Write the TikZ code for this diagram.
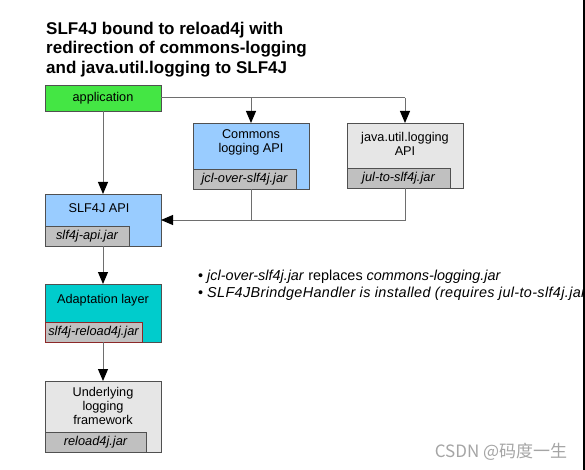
\documentclass[tikz,border=0pt]{standalone}
\usepackage{fontspec}
\setmainfont{Liberation Sans}
\newfontfamily\cjk{Noto Sans CJK SC}
\usetikzlibrary{arrows.meta,calc}
\definecolor{appgreen}{RGB}{68,230,68}
\definecolor{apiblue}{RGB}{153,204,255}
\definecolor{lightgray}{RGB}{230,230,230}
\definecolor{jargray}{RGB}{192,192,192}
\definecolor{teal}{RGB}{0,204,204}
\definecolor{boxborder}{RGB}{80,80,80}
\definecolor{linegray}{RGB}{110,110,110}
\definecolor{darkred}{RGB}{140,40,40}
\definecolor{wmgray}{RGB}{165,165,165}
\begin{document}
\begin{tikzpicture}[x=1pt,y=-1pt,
  box/.style={draw=boxborder, line width=0.8pt, anchor=north west, inner sep=0pt, outer sep=0pt, minimum width=116pt},
  jarbox/.style={draw=boxborder, fill=jargray, line width=0.8pt, anchor=south west, inner sep=0pt, outer sep=0pt, minimum height=19.5pt, font=\fontsize{12.8}{14}\selectfont\itshape},
  lbl/.style={font=\fontsize{12.7}{14}\selectfont, align=center, inner sep=0pt},
  conn/.style={draw=linegray, line width=1pt},
  arr/.style={conn, -{Triangle[length=12pt,width=10pt,color=black]}}
]
\useasboundingbox (0,0) rectangle (585,470);
\fill[white] (0,0) rectangle (585,470);
\begin{scope}
\clip (0,0) rectangle (585,470);

% title
\node[anchor=north west, inner sep=0pt, align=left,
      font=\fontsize{17}{19.7}\selectfont\bfseries] (title) at (46,21.5)
  {SLF4J bound to reload4j with\\redirection of commons-logging\\and java.util.logging to SLF4J};

% application
\node[box, fill=appgreen, minimum height=26pt, lbl] (app) at (45,85) {};
\node[lbl] (applbl) at (app.center) {application};

% SLF4J API
\node[box, fill=apiblue, minimum height=52pt] (slf) at (45,194) {};
\node[jarbox, minimum width=84pt] (slfjar) at (slf.south west) {slf4j-api.jar};
\node[lbl] (slflbl) at ($(slf.north)+(-4,14)$) {SLF4J API};

% Commons logging
\node[box, fill=apiblue, minimum height=66pt] (cl) at (193,123) {};
\node[jarbox, minimum width=103pt] (cljar) at (cl.south west) {jcl-over-slf4j.jar};
\node[lbl, font=\fontsize{12.7}{14}\selectfont] (cllbl) at ($(cl.north)+(0,19)$) {Commons\\logging API};

% java.util.logging
\node[box, fill=lightgray, minimum height=65pt] (jul) at (347,123) {};
\node[jarbox, minimum width=103pt] (juljar) at (jul.south west) {jul-to-slf4j.jar};
\node[lbl, font=\fontsize{12.7}{14.5}\selectfont] (jullbl) at ($(jul.north)+(0,21)$) {java.util.logging\\API};

% Adaptation layer
\node[box, fill=teal, minimum height=58pt] (ad) at (45,284) {};
\node[jarbox, draw=darkred, minimum width=97pt] (adjar) at (ad.south west) {slf4j-reload4j.jar};
\node[lbl] (adlbl) at ($(ad.north)+(0,16.5)$) {Adaptation layer};

% Underlying logging framework
\node[box, fill=lightgray, minimum height=71pt] (ul) at (45,381) {};
\node[jarbox, minimum width=101pt, minimum height=20pt] (uljar) at (ul.south west) {reload4j.jar};
\node[lbl, font=\fontsize{12.7}{14}\selectfont] (ullbl) at ($(ul.north)+(0,25)$) {Underlying\\logging\\framework};

% connectors
\coordinate (j1) at (cl.north |- app.east);
\coordinate (j2) at (jul.north |- app.east);
\draw[conn] (app.east) -- (j2);
\draw[arr] (j1) -- (cl.north);
\draw[arr] (j2) -- (jul.north);
\draw[arr] (app.south) -- (slf.north);
\coordinate (b1) at (cl.south |- slf.east);
\coordinate (b2) at (jul.south |- slf.east);
\draw[conn] (cl.south) -- (b1);
\draw[arr] (jul.south) -- (b2) -- (slf.east);
\draw[arr] (slf.south) -- (ad.north);
\draw[arr] (ad.south) -- (ul.north);

% notes
\node[anchor=west, inner sep=0pt, align=left, font=\fontsize{14.4}{16.7}\selectfont] (notes) at (198,285)
  {\textbullet\ \textit{jcl-over-slf4j.jar} replaces \textit{commons-logging.jar}\\
   \textbullet\ {\addfontfeature{LetterSpace=2.5}\textit{SLF4JBrindgeHandler is installed (requires jul-to-slf4j.jar)}}};

% watermark
\node[inner sep=0pt, text=wmgray, font=\cjk\fontsize{17}{20}\selectfont] (wm) at (501,452) {CSDN @码度一生};

% right edge
\fill[black] (582.6,0) rectangle (585,470);
\end{scope}
\end{tikzpicture}
\end{document}
